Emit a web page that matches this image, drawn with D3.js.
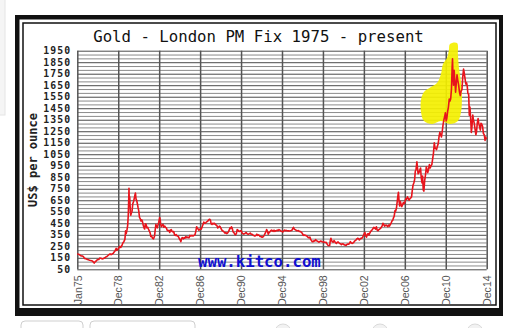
<!DOCTYPE html>
<html>
<head>
<meta charset="utf-8">
<script src="https://cdn.jsdelivr.net/npm/d3@7"></script>
<style>
  body { margin: 0; background: #fff; }
  svg { display: block; }
</style>
</head>
<body>
<div id="gold-chart"></div>
<script>
// chart values
var chartTitle = "Gold - London PM Fix 1975 - present";
var yLabel = "US$ per ounce";
var watermark = "www.kitco.com";

var yTicks = [50, 150, 250, 350, 450, 550, 650, 750, 850, 950, 1050, 1150, 1250, 1350, 1450, 1550, 1650, 1750, 1850, 1950];
var xTicks = [1975, 1979, 1983, 1987, 1991, 1995, 1999, 2003, 2007, 2011, 2015];
var xTickLabels = ["Jan75", "Dec78", "Dec82", "Dec86", "Dec90", "Dec94", "Dec98", "Dec02", "Dec06", "Dec10", "Dec14"];

// [year, US$] pairs
var goldSeries = [
  [1975.0,185],[1975.1,180],[1975.2,178],[1975.3,170],[1975.4,166],[1975.5,165],[1975.6,160],[1975.7,145],[1975.8,143],[1975.9,140],
  [1976.0,135],[1976.1,132],[1976.2,128],[1976.3,127],[1976.4,125],[1976.5,120],[1976.6,110],[1976.65,104],[1976.75,116],[1976.85,122],[1976.95,133],
  [1977.1,136],[1977.2,148],[1977.3,146],[1977.4,142],[1977.5,141],[1977.6,146],[1977.7,150],[1977.8,158],[1977.9,162],
  [1978.0,170],[1978.1,178],[1978.2,184],[1978.3,177],[1978.4,183],[1978.5,188],[1978.6,200],[1978.7,212],[1978.8,232],[1978.85,215],[1978.95,222],
  [1979.05,235],[1979.15,250],[1979.25,240],[1979.35,255],[1979.45,278],[1979.55,290],[1979.65,310],[1979.72,385],[1979.78,360],[1979.85,390],[1979.92,430],[1979.98,520],
  [1980.03,680],[1980.05,754],[1980.08,640],[1980.12,680],[1980.18,560],[1980.22,520],[1980.28,540],[1980.35,555],[1980.42,620],[1980.5,640],[1980.55,660],[1980.62,690],[1980.68,713],[1980.74,660],[1980.8,650],[1980.87,620],[1980.93,590],
  [1981.0,560],[1981.08,500],[1981.15,490],[1981.22,470],[1981.3,480],[1981.38,460],[1981.45,430],[1981.52,410],[1981.58,400],[1981.65,445],[1981.72,440],[1981.8,410],[1981.88,415],[1981.95,400],
  [1982.05,380],[1982.12,365],[1982.18,335],[1982.25,340],[1982.35,320],[1982.45,315],[1982.55,340],[1982.62,400],[1982.68,440],[1982.75,420],[1982.82,410],[1982.9,440],[1982.96,460],
  [1983.05,500],[1983.1,480],[1983.15,440],[1983.22,420],[1983.3,435],[1983.38,440],[1983.45,415],[1983.55,425],[1983.62,415],[1983.7,410],[1983.78,390],[1983.86,385],[1983.95,388],
  [1984.03,370],[1984.1,390],[1984.18,395],[1984.26,380],[1984.34,375],[1984.42,378],[1984.5,350],[1984.58,345],[1984.66,352],[1984.74,340],[1984.82,340],[1984.9,330],[1984.97,315],
  [1985.05,305],[1985.12,290],[1985.2,320],[1985.28,325],[1985.36,315],[1985.44,325],[1985.52,320],[1985.6,335],[1985.68,325],[1985.76,330],[1985.84,325],[1985.92,325],
  [1986.0,345],[1986.1,340],[1986.2,345],[1986.3,340],[1986.4,345],[1986.5,350],[1986.58,380],[1986.66,420],[1986.72,410],[1986.8,400],[1986.88,390],[1986.95,395],
  [1987.05,405],[1987.12,400],[1987.2,420],[1987.28,440],[1987.36,460],[1987.44,450],[1987.52,450],[1987.6,460],[1987.68,465],[1987.76,470],[1987.84,480],[1987.92,485],
  [1988.0,480],[1988.08,445],[1988.16,440],[1988.24,450],[1988.32,445],[1988.4,450],[1988.48,440],[1988.56,435],[1988.64,430],[1988.72,410],[1988.8,415],[1988.88,425],[1988.96,420],
  [1989.04,405],[1989.12,390],[1989.2,385],[1989.28,380],[1989.36,372],[1989.44,365],[1989.52,370],[1989.6,360],[1989.68,365],[1989.76,375],[1989.84,390],[1989.92,410],[1989.98,405],
  [1990.06,420],[1990.14,405],[1990.22,375],[1990.3,370],[1990.38,355],[1990.46,350],[1990.54,360],[1990.62,395],[1990.7,390],[1990.78,380],[1990.86,380],[1990.94,385],
  [1991.02,385],[1991.1,365],[1991.18,360],[1991.26,355],[1991.34,360],[1991.42,365],[1991.5,370],[1991.58,360],[1991.66,355],[1991.74,355],[1991.82,360],[1991.9,365],[1991.98,355],
  [1992.06,355],[1992.14,350],[1992.22,345],[1992.3,340],[1992.38,340],[1992.46,345],[1992.54,355],[1992.62,345],[1992.7,350],[1992.78,345],[1992.86,335],[1992.94,335],
  [1993.02,330],[1993.1,330],[1993.18,335],[1993.26,345],[1993.34,360],[1993.42,375],[1993.5,395],[1993.58,380],[1993.66,355],[1993.74,370],[1993.82,375],[1993.9,385],[1993.98,390],
  [1994.06,385],[1994.14,380],[1994.22,390],[1994.3,380],[1994.38,385],[1994.46,385],[1994.54,390],[1994.62,385],[1994.7,395],[1994.78,390],[1994.86,385],[1994.94,380],
  [1995.02,378],[1995.1,375],[1995.18,385],[1995.26,390],[1995.34,385],[1995.42,388],[1995.5,385],[1995.58,384],[1995.66,384],[1995.74,383],[1995.82,385],[1995.9,387],[1995.98,390],
  [1996.06,405],[1996.12,415],[1996.2,400],[1996.28,395],[1996.36,390],[1996.44,385],[1996.52,385],[1996.6,387],[1996.68,380],[1996.76,380],[1996.84,375],[1996.92,370],
  [1997.0,360],[1997.08,345],[1997.16,350],[1997.24,345],[1997.32,345],[1997.4,340],[1997.48,335],[1997.56,325],[1997.64,325],[1997.72,330],[1997.8,310],[1997.88,300],[1997.96,290],
  [1998.04,290],[1998.12,298],[1998.2,295],[1998.28,308],[1998.36,300],[1998.44,295],[1998.52,292],[1998.6,285],[1998.68,290],[1998.76,295],[1998.84,293],[1998.92,290],
  [1999.0,288],[1999.08,288],[1999.16,285],[1999.24,282],[1999.32,285],[1999.4,270],[1999.5,258],[1999.58,255],[1999.66,258],[1999.72,300],[1999.78,320],[1999.84,300],[1999.92,290],
  [2000.0,285],[2000.08,300],[2000.16,290],[2000.24,280],[2000.32,275],[2000.4,285],[2000.48,288],[2000.56,280],[2000.64,275],[2000.72,272],[2000.8,265],[2000.88,270],[2000.96,272],
  [2001.04,265],[2001.12,262],[2001.2,260],[2001.28,258],[2001.36,268],[2001.44,270],[2001.52,268],[2001.6,275],[2001.68,290],[2001.76,280],[2001.84,275],[2001.92,278],
  [2002.0,282],[2002.08,295],[2002.16,300],[2002.24,305],[2002.32,315],[2002.4,320],[2002.48,315],[2002.56,305],[2002.64,315],[2002.72,320],[2002.8,318],[2002.88,330],[2002.96,345],
  [2003.04,360],[2003.1,370],[2003.18,340],[2003.26,330],[2003.34,355],[2003.42,360],[2003.5,348],[2003.58,365],[2003.66,380],[2003.74,385],[2003.82,395],[2003.9,405],[2003.98,415],
  [2004.06,408],[2004.14,400],[2004.22,420],[2004.3,390],[2004.38,385],[2004.46,395],[2004.54,400],[2004.62,405],[2004.7,415],[2004.78,425],[2004.86,450],[2004.94,440],
  [2005.02,425],[2005.1,430],[2005.18,435],[2005.26,428],[2005.34,420],[2005.42,435],[2005.5,425],[2005.58,440],[2005.66,450],[2005.74,470],[2005.82,475],[2005.9,500],[2005.96,510],
  [2006.04,560],[2006.1,555],[2006.18,580],[2006.26,640],[2006.34,700],[2006.38,720],[2006.44,640],[2006.5,600],[2006.56,640],[2006.62,620],[2006.7,595],[2006.78,610],[2006.86,630],[2006.94,620],
  [2007.02,640],[2007.1,665],[2007.18,660],[2007.26,680],[2007.34,665],[2007.42,650],[2007.5,665],[2007.58,670],[2007.66,680],[2007.72,730],[2007.8,780],[2007.88,800],[2007.96,830],
  [2008.02,900],[2008.1,920],[2008.18,985],[2008.24,930],[2008.3,880],[2008.38,890],[2008.46,910],[2008.54,930],[2008.6,850],[2008.68,800],[2008.74,860],[2008.8,740],[2008.86,730],[2008.94,820],
  [2009.02,870],[2009.1,940],[2009.16,920],[2009.24,890],[2009.32,920],[2009.4,960],[2009.48,930],[2009.56,950],[2009.64,960],[2009.72,1010],[2009.8,1060],[2009.88,1150],[2009.94,1110],
  [2010.02,1100],[2010.1,1090],[2010.18,1120],[2010.26,1140],[2010.34,1200],[2010.42,1240],[2010.5,1220],[2010.58,1200],[2010.66,1250],[2010.74,1310],[2010.82,1350],[2010.9,1380],[2010.96,1410],
  [2011.04,1340],[2011.1,1360],[2011.18,1420],[2011.26,1460],[2011.34,1530],[2011.4,1510],[2011.48,1530],[2011.56,1620],[2011.62,1800],[2011.66,1880],[2011.7,1740],[2011.76,1650],[2011.82,1780],[2011.88,1700],[2011.96,1590],
  [2012.04,1680],[2012.1,1740],[2012.18,1690],[2012.26,1650],[2012.34,1590],[2012.42,1560],[2012.5,1600],[2012.58,1610],[2012.66,1720],[2012.74,1790],[2012.8,1760],[2012.88,1710],[2012.96,1660],
  [2013.04,1670],[2013.1,1640],[2013.16,1580],[2013.24,1570],[2013.3,1390],[2013.36,1460],[2013.42,1380],[2013.5,1240],[2013.56,1290],[2013.64,1390],[2013.7,1350],[2013.78,1320],[2013.86,1270],[2013.94,1220],
  [2014.0,1240],[2014.08,1320],[2014.16,1360],[2014.22,1320],[2014.3,1290],[2014.38,1260],[2014.44,1320],[2014.52,1310],[2014.6,1290],[2014.68,1230],[2014.76,1220],[2014.84,1170],[2014.9,1200],[2014.96,1180]
];

// yellow hand-drawn highlight around the 2011 peak, [year, US$]
var highlightShape = [
  [2011.41,2008],[2012.10,2017],[2012.19,1913],[2012.29,1800],[2012.49,1678],[2012.58,1539],[2012.49,1417],
  [2012.19,1339],[2011.41,1313],[2010.53,1339],[2009.66,1313],[2008.87,1339],[2008.58,1417],[2008.58,1522],
  [2008.87,1591],[2009.55,1635],[2010.14,1669],[2010.53,1748],[2010.73,1834],[2011.12,1887],[2011.31,1956]
];

var W = 529, H = 328;
var plot = {left: 77.3, right: 486.7, top: 50.7, bottom: 269.3};
var mono = "'DejaVu Sans Mono', 'Liberation Mono', monospace";

var svg = d3.select("#gold-chart").append("svg")
    .attr("width", W)
    .attr("height", H);

// page bits around the image (faint panel, buttons)
svg.append("rect").attr("x", -1).attr("y", -1).attr("width", 6).attr("height", 116)
    .attr("fill", "#f5f5f5").attr("stroke", "#e4e4e4");
svg.append("rect").attr("x", 21).attr("y", 321).attr("width", 62).attr("height", 14).attr("rx", 4)
    .attr("fill", "#fff").attr("stroke", "#cfcfcf");
svg.append("rect").attr("x", 90).attr("y", 321).attr("width", 105).attr("height", 14).attr("rx", 4)
    .attr("fill", "#fff").attr("stroke", "#cfcfcf");
[283, 380, 475].forEach(function(cx) {
    svg.append("circle").attr("cx", cx).attr("cy", 332).attr("r", 8)
        .attr("fill", "#f2f2f2").attr("stroke", "#dadada");
});

// picture frame: thick black border, white mat, thin inner line
svg.append("rect").attr("x", 15).attr("y", 15).attr("width", 488).attr("height", 301).attr("fill", "#111");
svg.append("rect").attr("x", 19.5).attr("y", 19.5).attr("width", 479.5).attr("height", 288.5).attr("fill", "#fff");
svg.append("rect").attr("x", 23).attr("y", 23).attr("width", 473).attr("height", 282)
    .attr("fill", "none").attr("stroke", "#111").attr("stroke-width", 1.5);

var x = d3.scaleLinear().domain([1975, 2015]).range([plot.left, plot.right]);
var y = d3.scaleLinear().domain([50, 1950]).range([plot.bottom, plot.top]);

var plotW = plot.right - plot.left,
    plotH = plot.bottom - plot.top;

// horizontal grid, three lines per labelled step
var gridVals = d3.range(0, 58).map(function(i) { return 50 + i * 100 / 3; });
var hGrid = svg.append("g")
    .attr("transform", "translate(" + plot.left + ",0)")
    .call(d3.axisLeft(y).tickValues(gridVals).tickSize(-plotW).tickFormat(""));
hGrid.select(".domain").remove();
hGrid.selectAll("line")
    .attr("stroke", function(d, i) { return i % 3 === 0 ? "#4a4a4a" : "#8a8a8a"; })
    .attr("stroke-width", 1);

// vertical grid
var vGrid = svg.append("g")
    .attr("transform", "translate(0," + plot.bottom + ")")
    .call(d3.axisBottom(x).tickValues(xTicks).tickSize(-plotH).tickFormat(""));
vGrid.select(".domain").remove();
vGrid.selectAll("line").attr("stroke", "#555").attr("stroke-width", 1.5);

// yellow scribble
svg.append("path")
    .datum(highlightShape)
    .attr("d", d3.line()
        .x(function(d) { return x(d[0]); })
        .y(function(d) { return y(d[1]); })
        .curve(d3.curveCatmullRomClosed.alpha(0.5)))
    .attr("fill", "#f4f000")
    .attr("opacity", 0.92);

// price line
svg.append("path")
    .datum(goldSeries)
    .attr("d", d3.line()
        .x(function(d) { return x(d[0]); })
        .y(function(d) { return y(d[1]); }))
    .attr("fill", "none")
    .attr("stroke", "#e8141c")
    .attr("stroke-width", 1.6)
    .attr("stroke-linejoin", "round");

// y tick labels (small font, spaced out so rows don't collide)
var yAxis = svg.append("g")
    .attr("transform", "translate(" + plot.left + ",0)")
    .call(d3.axisLeft(y).tickValues(yTicks).tickSize(0).tickPadding(6).tickFormat(d3.format("d")));
yAxis.select(".domain").remove();
yAxis.selectAll("text")
    .attr("font-family", mono)
    .attr("font-weight", "bold")
    .attr("font-size", "9.8px")
    .attr("letter-spacing", "1.1px")
    .attr("fill", "#222");

// x tick labels, rotated
var xAxis = svg.append("g")
    .attr("transform", "translate(0," + plot.bottom + ")")
    .call(d3.axisBottom(x).tickValues(xTicks).tickSize(0)
        .tickFormat(function(d, i) { return xTickLabels[i]; }));
xAxis.select(".domain").remove();
xAxis.selectAll("text")
    .attr("transform", "rotate(-90)")
    .attr("x", -6)
    .attr("y", 0)
    .attr("dy", "0.35em")
    .style("text-anchor", "end")
    .attr("font-family", "'Liberation Sans', Arial, sans-serif")
    .attr("font-size", "10.6px")
    .attr("fill", "#555");

// title
svg.append("text")
    .attr("x", 258.5)
    .attr("y", 42)
    .attr("text-anchor", "middle")
    .attr("font-family", mono)
    .attr("font-size", "15.7px")
    .attr("fill", "#111")
    .text(chartTitle);

// y axis title
svg.append("text")
    .attr("transform", "translate(37," + 160 + ") rotate(-90)")
    .attr("text-anchor", "middle")
    .attr("font-family", mono)
    .attr("font-weight", "bold")
    .attr("font-size", "12px")
    .attr("fill", "#222")
    .text(yLabel);

// watermark
svg.append("text")
    .attr("x", 198)
    .attr("y", 267)
    .attr("font-family", mono)
    .attr("font-weight", "bold")
    .attr("font-size", "15.7px")
    .attr("fill", "#1010d0")
    .text(watermark);
</script>
</body>
</html>
